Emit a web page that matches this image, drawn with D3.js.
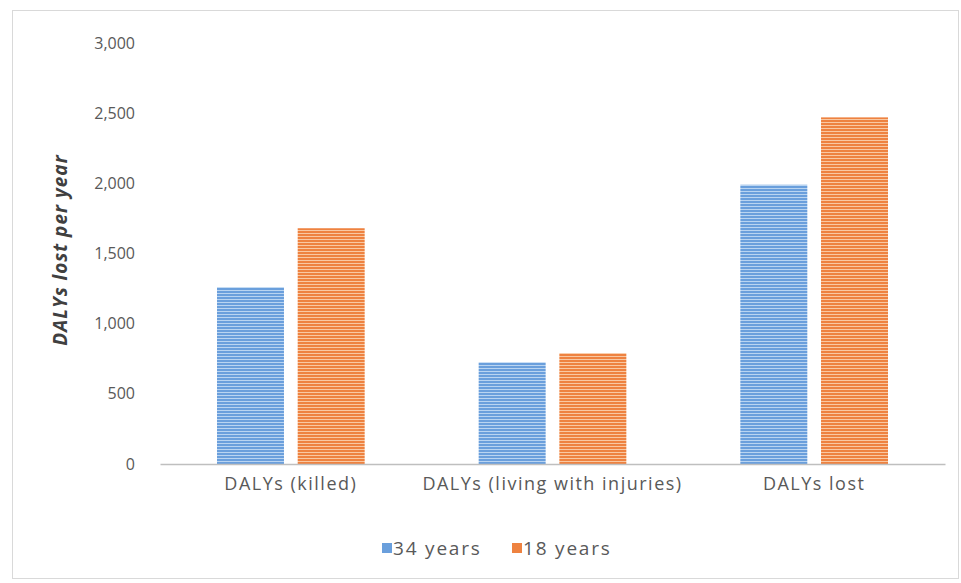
<!DOCTYPE html>
<html>
<head>
<meta charset="utf-8">
<script src="https://cdn.jsdelivr.net/npm/d3@7"></script>
<style>
  body { margin: 0; background: #fff; }
  text { font-family: "Open Sans", Lato, sans-serif; }
</style>
</head>
<body>
<div></div>
<script>
var width = 961;
var height = 583;

var categories = ['DALYs (killed)', 'DALYs (living with injuries)', 'DALYs lost'];
var seriesNames = ['34 years', '18 years'];
var years34 = [1260, 725, 1990];
var years18 = [1680, 790, 2470];
var yTicks = [0, 500, 1000, 1500, 2000, 2500, 3000];

var colors = { '34 years': ['#6a9fdc', '#b9d4f1'], '18 years': ['#ee8240', '#f9c8a2'] };

var svg = d3.select('div')
    .append('svg').attr('width', width).attr('height', height);

// striped fills
var defs = svg.append('defs');
seriesNames.forEach(function (name, i) {
    var p = defs.append('pattern')
        .attr('id', 'stripe' + i)
        .attr('patternUnits', 'userSpaceOnUse')
        .attr('width', 6).attr('height', 3);
    p.append('rect').attr('width', 6).attr('height', 3).attr('fill', colors[name][0]);
    p.append('rect').attr('y', 2).attr('width', 6).attr('height', 1).attr('fill', colors[name][1]);
});

// chart frame
svg.append('rect')
    .attr('x', 12.5).attr('y', 10.5).attr('width', 946).attr('height', 568)
    .attr('fill', '#fff').attr('stroke', '#d9d9d9');

var plotLeft = 160, plotRight = 945, plotTop = 43, plotBottom = 464;

var x0 = d3.scaleBand()
    .domain(categories)
    .range([plotLeft, plotRight]);

var x1 = d3.scaleBand()
    .domain(seriesNames)
    .range([57, x0.bandwidth() - 57])
    .paddingInner(0.17);

var y = d3.scaleLinear().domain([0, 3000]).range([plotBottom, plotTop]);

var data = categories.map(function (c, i) {
    return { name: c, values: [years34[i], years18[i]] };
});

var g = svg.append('g');

g.selectAll('g.cat')
    .data(data)
    .enter()
    .append('g')
        .attr('class', 'cat')
        .attr('transform', function (d) { return 'translate(' + x0(d.name) + ', 0)'; })
    .selectAll('rect')
    .data(function (d) {
        return seriesNames.map(function (key, i) { return { key: key, idx: i, value: d.values[i] }; });
    })
    .enter()
    .append('rect')
    .attr('x', function (d) { return x1(d.key); })
    .attr('y', function (d) { return y(d.value); })
    .attr('width', x1.bandwidth())
    .attr('height', function (d) { return plotBottom - y(d.value); })
    .attr('fill', function (d) { return 'url(#stripe' + d.idx + ')'; });

// y axis labels (no line)
var yAxis = svg.append('g')
    .attr('transform', 'translate(' + (plotLeft - 22) + ',0)')
    .call(d3.axisLeft(y).tickValues(yTicks).tickSize(0).tickFormat(d3.format(',')));
yAxis.select('.domain').remove();
yAxis.selectAll('text')
    .attr('fill', '#595959').style('font-size', '16px');

// x axis
var xAxis = svg.append('g')
    .attr('transform', 'translate(0,' + plotBottom + ')')
    .call(d3.axisBottom(x0).tickSize(0).tickPadding(13));
xAxis.select('.domain').attr('stroke', '#bfbfbf').attr('stroke-width', 1.5);
xAxis.selectAll('text')
    .attr('fill', '#595959').style('font-size', '18px')
    .style('letter-spacing', '1.5px');

// y title
svg.append('text')
    .attr('transform', 'translate(67,' + 250 + ') rotate(-90)')
    .attr('text-anchor', 'middle')
    .attr('fill', '#404040')
    .style('font-size', '19px')
    .style('font-weight', 'bold')
    .style('font-style', 'italic')
    .style('letter-spacing', '1px')
    .text('DALYs lost per year');

// legend
var legendX = [382, 512];
var legend = svg.selectAll('g.legend')
    .data(seriesNames)
    .enter()
    .append('g')
    .attr('class', 'legend')
    .attr('transform', function (d, i) { return 'translate(' + legendX[i] + ',548)'; });
legend.append('rect')
    .attr('x', 0).attr('y', -5).attr('width', 10).attr('height', 10)
    .attr('fill', function (d) { return colors[d][0]; });
legend.append('text')
    .attr('x', 11).attr('y', 0).attr('dy', '0.35em')
    .attr('fill', '#595959').style('font-size', '19px')
    .style('letter-spacing', '1.8px')
    .text(function (d) { return d; });
</script>
</body>
</html>
